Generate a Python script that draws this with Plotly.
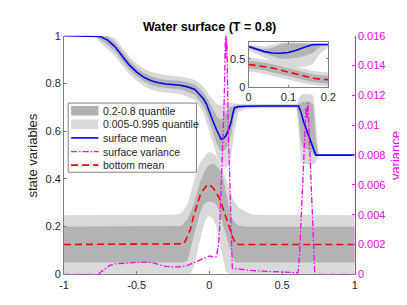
import plotly.graph_objects as go

# ---------------- data ----------------
# surface (main axes)
surf_x = [-1, -0.8, -0.775, -0.75, -0.7, -0.65, -0.6, -0.55, -0.5, -0.45, -0.4, -0.35, -0.3, -0.25, -0.2,
          -0.15, -0.1, -0.064, -0.04, -0.02, 0, 0.025, 0.05, 0.07, 0.082, 0.095, 0.114, 0.13, 0.148, 0.162,
          0.172, 0.2, 0.25, 0.4, 0.6, 0.614, 0.63, 0.648, 0.69, 0.715, 0.732, 0.75, 1]
surf_mean = [1, 1, 1, 0.997, 0.982, 0.955, 0.915, 0.877, 0.848, 0.826, 0.812, 0.803, 0.798, 0.796, 0.793,
             0.786, 0.775, 0.752, 0.735, 0.714, 0.68, 0.642, 0.605, 0.578, 0.566, 0.568, 0.581, 0.603, 0.635, 0.675,
             0.698, 0.703, 0.705, 0.706, 0.706, 0.706, 0.68, 0.64, 0.57, 0.527, 0.5, 0.5, 0.5]
surf_q20 = [1, 1, 0.995, 0.985, 0.962, 0.935, 0.895, 0.858, 0.83, 0.808, 0.794, 0.785, 0.78, 0.778, 0.774,
            0.765, 0.752, 0.726, 0.705, 0.68, 0.64, 0.595, 0.55, 0.525, 0.515, 0.515, 0.525, 0.545, 0.58, 0.63,
            0.67, 0.697, 0.701, 0.702, 0.702, 0.66, 0.56, 0.53, 0.52, 0.505, 0.497, 0.499, 0.499]
surf_q80 = [1, 1, 1, 1, 0.998, 0.973, 0.935, 0.896, 0.866, 0.844, 0.83, 0.821, 0.816, 0.814, 0.812,
            0.805, 0.795, 0.778, 0.762, 0.745, 0.72, 0.69, 0.665, 0.65, 0.65, 0.66, 0.68, 0.695, 0.703, 0.707,
            0.708, 0.708, 0.709, 0.71, 0.71, 0.715, 0.72, 0.725, 0.725, 0.71, 0.56, 0.501, 0.501]
surf_q005 = [1, 1, 0.99, 0.97, 0.945, 0.915, 0.877, 0.84, 0.812, 0.79, 0.775, 0.766, 0.761, 0.759, 0.755,
             0.745, 0.73, 0.7, 0.675, 0.645, 0.6, 0.55, 0.5, 0.47, 0.455, 0.45, 0.45, 0.46, 0.49, 0.55,
             0.6, 0.68, 0.695, 0.697, 0.697, 0.6, 0.48, 0.465, 0.46, 0.46, 0.47, 0.497, 0.497]
surf_q995 = [1, 1, 1, 1, 1, 0.99, 0.952, 0.913, 0.884, 0.862, 0.848, 0.84, 0.835, 0.833, 0.83,
             0.824, 0.815, 0.8, 0.785, 0.77, 0.75, 0.73, 0.715, 0.71, 0.71, 0.715, 0.72, 0.72, 0.72, 0.718,
             0.716, 0.714, 0.713, 0.714, 0.714, 0.735, 0.75, 0.757, 0.757, 0.75, 0.65, 0.503, 0.503]

# bottom (main axes)
bot_x = [-1, -0.3, -0.25, -0.22, -0.2, -0.185, -0.175, -0.15, -0.13, -0.108, -0.086, -0.064, -0.041, -0.019,
         0, 0.026, 0.048, 0.07, 0.092, 0.114, 0.136, 0.159, 0.181, 0.203, 0.25, 0.3, 1]
bot_mean = [0.125, 0.125, 0.125, 0.125, 0.125, 0.125, 0.128, 0.16, 0.19, 0.245, 0.286, 0.33, 0.355, 0.372,
            0.376, 0.362, 0.342, 0.318, 0.28, 0.239, 0.198, 0.158, 0.128, 0.125, 0.125, 0.125, 0.125]
bot_q20 = [0.05, 0.05, 0.05, 0.05, 0.05, 0.05, 0.05, 0.06, 0.1, 0.16, 0.212, 0.258, 0.293, 0.303,
           0.305, 0.302, 0.294, 0.26, 0.212, 0.165, 0.118, 0.07, 0.05, 0.05, 0.05, 0.05, 0.05]
bot_q80 = [0.2, 0.2, 0.2, 0.2, 0.203, 0.208, 0.213, 0.232, 0.258, 0.293, 0.34, 0.387, 0.42, 0.447,
           0.458, 0.465, 0.455, 0.44, 0.414, 0.35, 0.279, 0.232, 0.213, 0.205, 0.2, 0.2, 0.2]
bot_q005 = [0.002, 0.002, 0.002, 0.002, 0.002, 0.002, 0.002, 0.002, 0.002, 0.03, 0.085, 0.145, 0.2, 0.239,
            0.245, 0.232, 0.2, 0.145, 0.075, 0.01, 0.002, 0.002, 0.002, 0.002, 0.002, 0.002, 0.002]
bot_q995 = [0.248, 0.248, 0.25, 0.252, 0.255, 0.262, 0.27, 0.295, 0.34, 0.387, 0.43, 0.467, 0.49, 0.507,
            0.513, 0.508, 0.494, 0.468, 0.435, 0.4, 0.36, 0.319, 0.295, 0.279, 0.262, 0.25, 0.248]

# surface variance (right axis)
var_x = [-1, -0.765, -0.74, -0.71, -0.685, -0.65, -0.6, -0.5, -0.42, -0.38, -0.33, -0.3, -0.25, -0.2, -0.15,
         -0.1, -0.064, -0.03, 0.003, 0.03, 0.048, 0.062, 0.07, 0.08, 0.092, 0.1, 0.106, 0.11, 0.113, 0.115,
         0.118, 0.121, 0.124, 0.13, 0.137, 0.145, 0.152, 0.158, 0.3, 0.5, 0.61, 0.62, 0.64, 0.655, 0.665,
         0.672, 0.678, 0.685, 0.695, 0.71, 0.725, 1]
var_y = [0, 0, 0.0002, 0.0004, 0.0006, 0.0007, 0.00075, 0.0008, 0.00082, 0.00075, 0.0006, 0.00053, 0.0005,
         0.0005, 0.0006, 0.0008, 0.00097, 0.0011, 0.00124, 0.00115, 0.00118, 0.0019, 0.003, 0.0055, 0.0085,
         0.011, 0.0135, 0.0158, 0.0145, 0.0162, 0.015, 0.0155, 0.0128, 0.0095, 0.0075, 0.0042, 0.0015, 0.0004,
         0.00025, 0.00015, 0.0001, 0.0012, 0.0052, 0.0085, 0.0112, 0.0105, 0.0115, 0.0098, 0.0072, 0.0035, 0, 0]

# inset
ins_x = [0, 0.02, 0.04, 0.06, 0.08, 0.1, 0.12, 0.14, 0.16, 0.18, 0.2]
ins_surf = [0.72, 0.68, 0.63, 0.605, 0.60, 0.615, 0.655, 0.71, 0.752, 0.758, 0.758]
ins_surf_q20 = [0.69, 0.65, 0.59, 0.55, 0.5, 0.5, 0.52, 0.55, 0.6, 0.72, 0.74]
ins_surf_q80 = [0.74, 0.71, 0.67, 0.7, 0.76, 0.78, 0.78, 0.78, 0.77, 0.765, 0.765]
ins_surf_q005 = [0.66, 0.6, 0.52, 0.45, 0.38, 0.35, 0.35, 0.36, 0.4, 0.6, 0.7]
ins_surf_q995 = [0.76, 0.74, 0.72, 0.76, 0.79, 0.8, 0.8, 0.8, 0.79, 0.78, 0.77]
ins_bot = [0.40, 0.385, 0.36, 0.335, 0.30, 0.265, 0.225, 0.19, 0.155, 0.135, 0.127]
ins_bot_q20 = [0.33, 0.315, 0.29, 0.265, 0.23, 0.195, 0.155, 0.12, 0.085, 0.065, 0.057]
ins_bot_q80 = [0.47, 0.455, 0.43, 0.405, 0.37, 0.335, 0.295, 0.26, 0.225, 0.205, 0.197]
ins_bot_q005 = [0.27, 0.255, 0.23, 0.205, 0.17, 0.135, 0.095, 0.06, 0.03, 0.01, 0.0]
ins_bot_q995 = [0.53, 0.515, 0.49, 0.465, 0.43, 0.395, 0.355, 0.32, 0.285, 0.265, 0.257]

x_ticks = [-1, -0.5, 0, 0.5, 1]
x_ticklabels = ["-1", "-0.5", "0", "0.5", "1"]
y_ticks = [0, 0.2, 0.4, 0.6, 0.8, 1]
y_ticklabels = ["0", "0.2", "0.4", "0.6", "0.8", "1"]
y2_ticks = [0, 0.002, 0.004, 0.006, 0.008, 0.01, 0.012, 0.014, 0.016]
y2_ticklabels = ["0", "0.002", "0.004", "0.006", "0.008", "0.01", "0.012", "0.014", "0.016"]
ins_x_ticks = [0, 0.1, 0.2]
ins_x_ticklabels = ["0", "0.1", "0.2"]
ins_y_ticks = [0, 0.5]
ins_y_ticklabels = ["0", "0.5"]

legend_labels = ["0.2-0.8 quantile", "0.005-0.995 quantile", "surface mean", "surface variance", "bottom mean"]

# ---------------- styling ----------------
W, H = 407, 305
FONT = "Liberation Sans, Arial, sans-serif"
DARK = "#b3b3b3"
LIGHT = "#d9d9d9"
BLUE = "#0000ff"
RED = "#ff0000"
MAG = "#ff00ff"
AX = "#808080"
TXT = "#262626"

def px_x(p):
    return p / W

def px_y(p):
    return 1 - p / H

fig = go.Figure()

def band(x, lo, hi, color, xa="x", ya="y"):
    fig.add_trace(go.Scatter(
        x=list(x) + list(x)[::-1], y=list(hi) + list(lo)[::-1],
        fill="toself", fillcolor=color, line=dict(width=0), mode="lines",
        hoverinfo="skip", showlegend=False, xaxis=xa, yaxis=ya))

# main axes
band(surf_x, surf_q005, surf_q995, LIGHT)
band(bot_x, bot_q005, bot_q995, LIGHT)
band(surf_x, surf_q20, surf_q80, DARK)
band(bot_x, bot_q20, bot_q80, DARK)
fig.add_trace(go.Scatter(x=bot_x, y=bot_mean, mode="lines", showlegend=False,
                         line=dict(color=RED, width=1.6, dash="7px,4px")))
fig.add_trace(go.Scatter(x=surf_x, y=surf_mean, mode="lines", showlegend=False,
                         line=dict(color=BLUE, width=1.6)))
fig.add_trace(go.Scatter(x=var_x, y=var_y, mode="lines", showlegend=False, yaxis="y2",
                         line=dict(color=MAG, width=1.3, dash="6px,2px,1.5px,2px")))

# inset
band(ins_x, ins_surf_q005, ins_surf_q995, LIGHT, "x3", "y3")
band(ins_x, ins_bot_q005, ins_bot_q995, LIGHT, "x3", "y3")
band(ins_x, ins_surf_q20, ins_surf_q80, DARK, "x3", "y3")
band(ins_x, ins_bot_q20, ins_bot_q80, DARK, "x3", "y3")
fig.add_trace(go.Scatter(x=ins_x, y=ins_bot, mode="lines", showlegend=False, xaxis="x3", yaxis="y3",
                         line=dict(color=RED, width=1.6, dash="7px,4px")))
fig.add_trace(go.Scatter(x=ins_x, y=ins_surf, mode="lines", showlegend=False, xaxis="x3", yaxis="y3",
                         line=dict(color=BLUE, width=1.6)))

axis_common = dict(showgrid=False, zeroline=False, showline=True, ticks="inside",
                   tickfont=dict(family=FONT, size=11, color=TXT))

fig.update_layout(
    width=W, height=H, margin=dict(l=0, r=0, t=0, b=0),
    paper_bgcolor="white", plot_bgcolor="rgba(0,0,0,0)",
    font=dict(family=FONT, color=TXT),
    xaxis=dict(domain=[px_x(52.7), px_x(353)], range=[-1, 1], tickvals=x_ticks, ticktext=x_ticklabels,
               linecolor=AX, tickcolor=AX, ticklen=3, anchor="y", **axis_common),
    yaxis=dict(domain=[px_y(271), px_y(22.7)], range=[0, 1], tickvals=y_ticks, ticktext=y_ticklabels,
               linecolor=AX, tickcolor=AX, ticklen=3, anchor="x", **axis_common),
    yaxis2=dict(overlaying="y", side="right", anchor="x", range=[0, 0.016], tickvals=y2_ticks,
                ticktext=y2_ticklabels, showgrid=False, zeroline=False, showline=True, ticks="inside",
                ticklen=3, linecolor=MAG, tickcolor=MAG,
                tickfont=dict(family=FONT, size=11, color=MAG)),
    xaxis3=dict(domain=[px_x(243.3), px_x(325.7)], range=[0, 0.2], tickvals=ins_x_ticks,
                ticktext=ins_x_ticklabels, anchor="y3", linecolor=AX, tickcolor=AX, ticklen=2,
                mirror="ticks", **axis_common),
    yaxis3=dict(domain=[px_y(75.7), px_y(29.3)], range=[0, 0.8], tickvals=ins_y_ticks,
                ticktext=ins_y_ticklabels, anchor="x3", linecolor=AX, tickcolor=AX, ticklen=2,
                mirror="ticks", **axis_common),
)

# title and axis titles
ann = [
    dict(text="<b>Water surface (T = 0.8)</b>", x=px_x(202.9), y=px_y(13.5), xref="paper", yref="paper",
         xanchor="center", yanchor="middle", showarrow=False, font=dict(family=FONT, size=12.5, color="#000000")),
    dict(text="state variables", x=px_x(20), y=px_y(147), xref="paper", yref="paper", textangle=-90,
         xanchor="center", yanchor="middle", showarrow=False, font=dict(family=FONT, size=13, color=TXT)),
    dict(text="variance", x=px_x(394.5), y=px_y(147), xref="paper", yref="paper", textangle=-90,
         xanchor="center", yanchor="middle", showarrow=False, font=dict(family=FONT, size=13, color=MAG)),
]

# custom legend
shapes = [dict(type="rect", xref="paper", yref="paper", x0=px_x(57), x1=px_x(189.5), y0=px_y(164.7),
               y1=px_y(92.7), line=dict(color=AX, width=1), fillcolor="white", layer="above")]
rows = [100.7, 114.9, 129.0, 143.2, 157.3]
sw_x0, sw_x1 = px_x(60), px_x(88.3)
shapes.append(dict(type="rect", xref="paper", yref="paper", x0=sw_x0, x1=sw_x1, y0=px_y(rows[0] + 5),
                   y1=px_y(rows[0] - 5), line=dict(width=0), fillcolor=DARK, layer="above"))
shapes.append(dict(type="rect", xref="paper", yref="paper", x0=sw_x0, x1=sw_x1, y0=px_y(rows[1] + 5),
                   y1=px_y(rows[1] - 5), line=dict(width=0), fillcolor=LIGHT, layer="above"))
shapes.append(dict(type="line", xref="paper", yref="paper", x0=sw_x0, x1=sw_x1, y0=px_y(rows[2]),
                   y1=px_y(rows[2]), line=dict(color=BLUE, width=1.6), layer="above"))
shapes.append(dict(type="line", xref="paper", yref="paper", x0=sw_x0, x1=sw_x1, y0=px_y(rows[3]),
                   y1=px_y(rows[3]), line=dict(color=MAG, width=1.3, dash="6px,2px,1.5px,2px"), layer="above"))
shapes.append(dict(type="line", xref="paper", yref="paper", x0=sw_x0, x1=sw_x1, y0=px_y(rows[4]),
                   y1=px_y(rows[4]), line=dict(color=RED, width=1.6, dash="7px,4px"), layer="above"))
for r, lab in zip(rows, legend_labels):
    ann.append(dict(text=lab, x=px_x(90.7), y=px_y(r), xref="paper", yref="paper", xanchor="left",
                    yanchor="middle", showarrow=False, font=dict(family=FONT, size=10.5, color=TXT)))

fig.update_layout(annotations=ann, shapes=shapes)
fig.write_html("out.html")
